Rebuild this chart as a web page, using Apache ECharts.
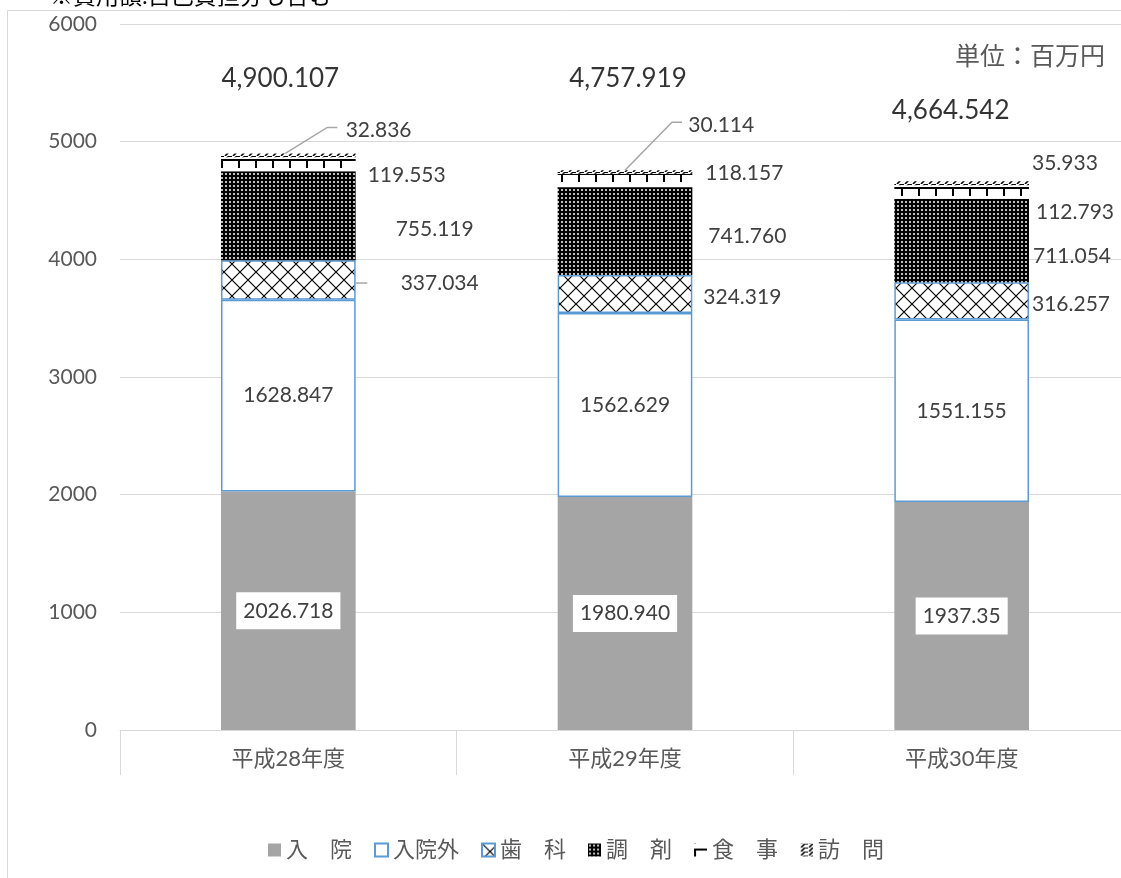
<!DOCTYPE html>
<html><head><meta charset="utf-8">
<script src="https://cdn.jsdelivr.net/npm/echarts@6/dist/echarts.min.js"></script>
<style>html,body{margin:0;padding:0;background:#fff}#c{width:1121px;height:878px}</style>
</head><body><div id="c"></div>
<script>
// ---- data ----
const categories = ['平成28年度', '平成29年度', '平成30年度'];
const seriesNames = ['入　院', '入院外', '歯　科', '調　剤', '食　事', '訪　問'];
const inpatient  = ['2026.718', '1980.940', '1937.35'];
const outpatient = ['1628.847', '1562.629', '1551.155'];
const dental     = ['337.034', '324.319', '316.257'];
const pharmacy   = ['755.119', '741.760', '711.054'];
const meals      = ['119.553', '118.157', '112.793'];
const visits     = ['32.836', '30.114', '35.933'];
const totals     = ['4,900.107', '4,757.919', '4,664.542'];
const yMin = 0, yMax = 6000, yStep = 1000;

// ---- label layout (pixel shifts, not data) ----
const dentalShift   = [[45, 3], [11, 3], [3, 3]];
const pharmacyShift = [[40, 13], [16, 5], [4, 16]];
const mealsShift    = [[12, 11], [13, -7], [7, 20]];
const visitsShift   = [[-10, -25], [-4, -47], [3, -20]];
const totalShift    = [[-8, -75], [3, -92], [-11, -71]];

const FONT = "Lato, 'Noto Sans CJK JP', sans-serif";
const num = s => Number(String(s).replace(/,/g, ''));

function tile(w, h, draw) {
  const c = document.createElement('canvas');
  c.width = w; c.height = h;
  const g = c.getContext('2d');
  draw(g, w, h);
  return { image: c, repeat: 'repeat' };
}
const patDental = tile(16, 16, (g, w, h) => {
  g.fillStyle = '#fff'; g.fillRect(0, 0, w, h);
  g.strokeStyle = '#000'; g.lineWidth = 1.2;
  g.beginPath(); g.moveTo(0, 0); g.lineTo(w, h); g.moveTo(w, 0); g.lineTo(0, h); g.stroke();
});
const patPharmacy = tile(4, 4, (g, w, h) => {
  g.fillStyle = '#000'; g.fillRect(0, 0, w, h);
  g.fillStyle = 'rgba(255,255,255,0.75)'; g.fillRect(1, 1, 2, 2);
});
const patMeals = tile(17, 14, (g, w, h) => {
  g.fillStyle = '#fff'; g.fillRect(0, 0, w, h);
  g.fillStyle = '#000'; g.fillRect(0, 5, w, 2); g.fillRect(0, 7, 2, 7);
});
const patVisits = tile(8, 4, (g, w, h) => {
  g.fillStyle = '#fff'; g.fillRect(0, 0, w, h);
  g.strokeStyle = '#000'; g.lineWidth = 1.6;
  g.beginPath(); g.moveTo(1, 4); g.lineTo(5, 0); g.stroke();
  g.fillStyle = '#000'; g.fillRect(4, 0, 4, 1);
});

const sideLabel = { show: true, position: 'right', distance: 0, color: '#404040', fontSize: 21, fontFamily: FONT };
function items(arr, shifts) {
  return arr.map((s, i) => {
    const o = { value: num(s) };
    if (shifts) o.label = { offset: shifts[i] };
    return o;
  });
}
const rawOf = arr => p => arr[p.dataIndex];

// leader line anchors (computed from data)
const stackTop = categories.map((_, i) => num(inpatient[i]) + num(outpatient[i]) + num(dental[i]) + num(pharmacy[i]) + num(meals[i]) + num(visits[i]));
const dentalMid = categories.map((_, i) => num(inpatient[i]) + num(outpatient[i]) + num(dental[i]) / 2);
const leaders = [
  { cat: 0, v: stackTop[0], pts: [[-3, 0], [39, -26], [49, -26]] },
  { cat: 1, v: stackTop[1], pts: [[0, 0], [47, -48], [57, -48]] },
  { cat: 0, v: dentalMid[0], pts: [[67, 3], [79, 3]] }
];

const chart = echarts.init(document.getElementById('c'), null, { renderer: 'canvas' });
chart.setOption({
  animation: false,
  backgroundColor: '#fff',
  textStyle: { fontFamily: FONT },
  graphic: [
    { type: 'rect', shape: { x: 7.5, y: 10.5, width: 1300, height: 1000 }, style: { fill: null, stroke: '#D9D9D9', lineWidth: 1 }, z: -1 },
    { type: 'text', left: 50, top: -15, style: { text: '※費用額:自己負担分も含む', fontSize: 23, fontFamily: FONT, fill: '#000' } },
    { type: 'text', left: 955, top: 44, style: { text: '単位：百万円', fontSize: 25, fontFamily: FONT, fill: '#595959' } }
  ],
  grid: { left: 120, width: 1010, top: 24, bottom: 148, outerBoundsMode: 'none', containLabel: false },
  legend: {
    left: 263, top: 834, itemWidth: 13, itemHeight: 13, itemGap: 22, icon: 'rect',
    data: seriesNames,
    textStyle: { fontSize: 22, color: '#595959', fontFamily: FONT }
  },
  xAxis: {
    type: 'category', data: categories,
    axisLine: { lineStyle: { color: '#D9D9D9', width: 1 } },
    axisTick: { show: true, length: 45, interval: 0, lineStyle: { color: '#D9D9D9' } },
    axisLabel: { fontSize: 22, color: '#595959', margin: 18, fontFamily: FONT }
  },
  yAxis: {
    type: 'value', min: yMin, max: yMax, interval: yStep,
    axisLine: { show: false }, axisTick: { show: false },
    axisLabel: { fontSize: 21, color: '#595959', margin: 23, fontFamily: FONT, formatter: v => String(v) },
    splitLine: { lineStyle: { color: '#D9D9D9', width: 1 } }
  },
  series: [
    { name: seriesNames[0], type: 'bar', stack: 't', barWidth: '40%', data: items(inpatient),
      itemStyle: { color: '#A5A5A5' },
      label: { show: true, position: 'inside', color: '#404040', fontSize: 21, fontFamily: FONT,
               backgroundColor: '#fff', padding: [8, 7, 8, 7], formatter: rawOf(inpatient) } },
    { name: seriesNames[1], type: 'bar', stack: 't', data: items(outpatient),
      itemStyle: { color: '#fff', borderColor: '#5B9BD5', borderWidth: 1.5 },
      label: { show: true, position: 'inside', color: '#404040', fontSize: 21, fontFamily: FONT, formatter: rawOf(outpatient) } },
    { name: seriesNames[2], type: 'bar', stack: 't', data: items(dental, dentalShift),
      itemStyle: { color: patDental, borderColor: '#5B9BD5', borderWidth: 1.5 },
      label: Object.assign({}, sideLabel, { formatter: rawOf(dental) }) },
    { name: seriesNames[3], type: 'bar', stack: 't', data: items(pharmacy, pharmacyShift),
      itemStyle: { color: patPharmacy },
      label: Object.assign({}, sideLabel, { formatter: rawOf(pharmacy) }) },
    { name: seriesNames[4], type: 'bar', stack: 't', data: items(meals, mealsShift),
      itemStyle: { color: patMeals },
      label: Object.assign({}, sideLabel, { formatter: rawOf(meals) }) },
    { name: seriesNames[5], type: 'bar', stack: 't', data: items(visits, visitsShift),
      itemStyle: { color: patVisits },
      label: Object.assign({}, sideLabel, { formatter: rawOf(visits) }) },
    { name: 'total', type: 'scatter', symbolSize: 0, silent: true,
      data: totals.map((t, i) => ({ value: [i, num(t)], label: { offset: totalShift[i] } })),
      label: { show: true, position: 'inside', color: '#000', fontSize: 26, fontFamily: FONT,
               formatter: p => totals[p.dataIndex] } },
    { name: 'leader', type: 'custom', silent: true,
      data: leaders.map(l => [l.cat, l.v]),
      renderItem: (params, api) => {
        const p = api.coord([api.value(0), api.value(1)]);
        const pts = leaders[params.dataIndex].pts.map(([dx, dy]) => [p[0] + dx, p[1] + dy]);
        return { type: 'polyline', shape: { points: pts }, style: { stroke: '#A6A6A6', lineWidth: 1.5, fill: null } };
      }, z: 5 }
  ]
});
</script></body></html>
